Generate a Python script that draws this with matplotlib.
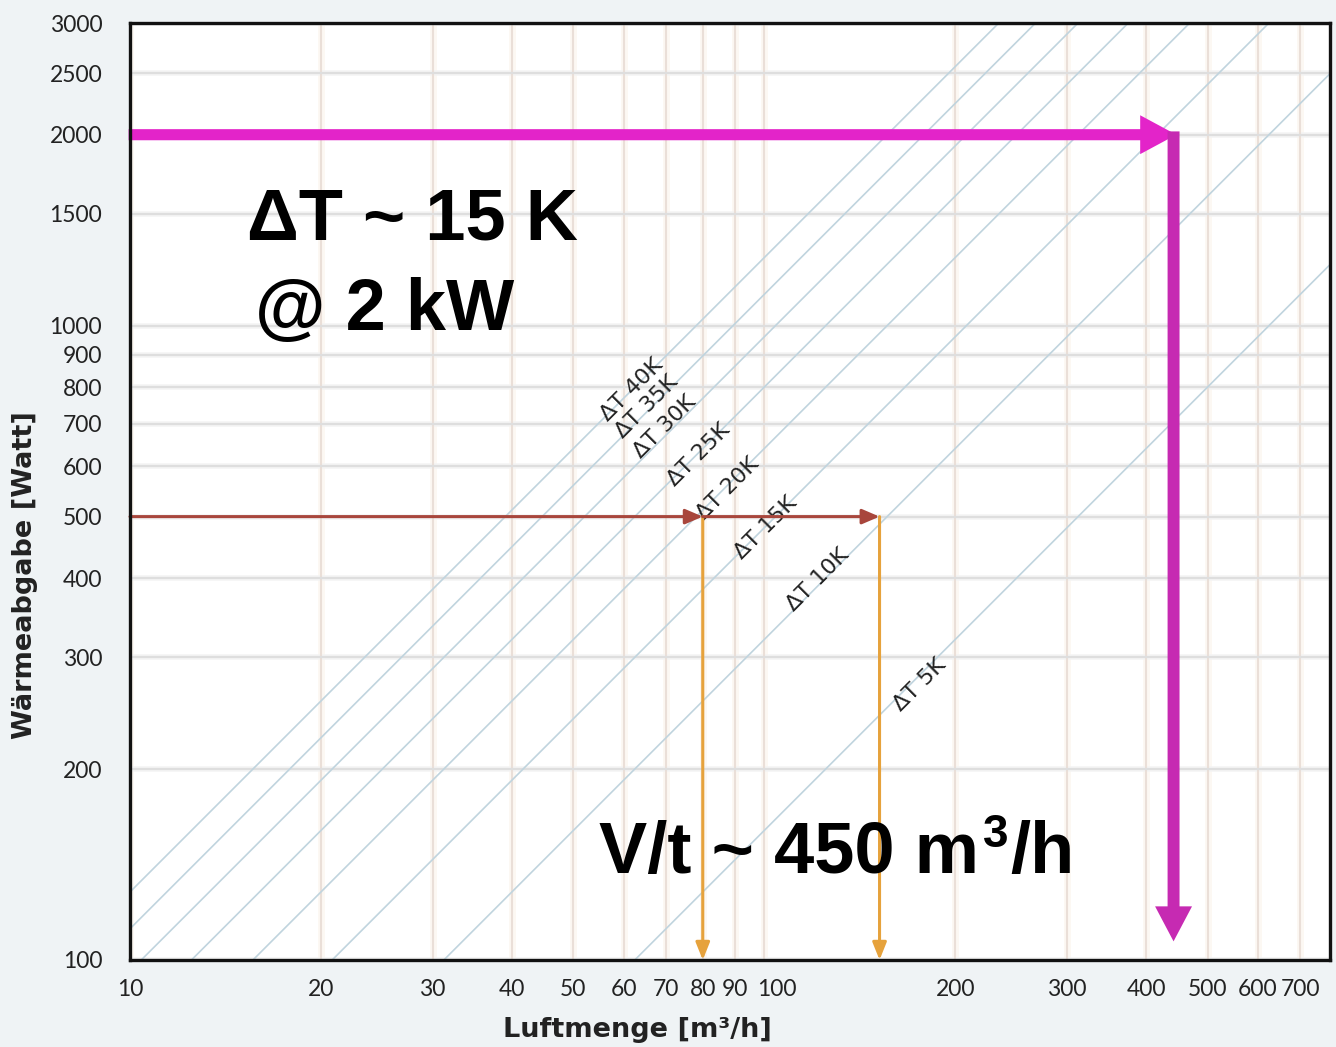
import numpy as np
import matplotlib
matplotlib.use("Agg")
import matplotlib.pyplot as plt
from matplotlib.ticker import NullLocator
from matplotlib.transforms import ScaledTranslation

# heat output Q [W] = k * dT [K] * V [m3/h]
delta_t = [5, 10, 15, 20, 25, 30, 35, 40]
k_air = 0.32

x_ticks = [10, 20, 30, 40, 50, 60, 70, 80, 90, 100, 200, 300, 400, 500, 600, 700]
y_ticks = [100, 200, 300, 400, 500, 600, 700, 800, 900, 1000, 1500, 2000, 2500, 3000]

# where the "dT xxK" labels sit
label_dt = [40, 35, 30, 25, 20, 15, 10, 5]
label_v = [61.9, 65.2, 69.8, 78.7, 87.7, 100.4, 121.6, 175.6]
label_q = [793, 745, 694, 626, 553, 480, 397, 272]

# reading example at 500 W
ex_q = 500
ex_v = [80, 152]
ex_q_min = 100

# 2 kW case
big_q = 2000
big_v = 442
big_q_end = 107

fig = plt.figure(figsize=(13.36, 10.47), dpi=100)
fig.patch.set_facecolor('#eff3f5')
ax = fig.add_axes([130/1336, 87/1047, 1200/1336, 937/1047])
ax.set_facecolor('white')
ax.set_xscale('log')
ax.set_yscale('log')
ax.set_xlim(10, 780)
ax.set_ylim(100, 3000)

# grid
for xv in x_ticks:
    ax.axvline(xv, color='#fcf8f3', lw=5, zorder=0)
    ax.axvline(xv, color='#eadfd8', lw=1.5, zorder=0.5)
for yv in y_ticks:
    ax.axhline(yv, color='#f4f4f4', lw=4, zorder=0)
    ax.axhline(yv, color='#dedede', lw=1.6, zorder=0.5)

# dT lines
v = np.array([5.0, 1000.0])
for dt in delta_t:
    ax.plot(v, k_air * dt * v, color='#c0d4de', lw=1.2, zorder=1)

for dt, lv, lq in zip(label_dt, label_v, label_q):
    ax.text(lv, lq, 'ΔT %dK' % dt, rotation=45, rotation_mode='anchor',
            ha='center', va='center', fontsize=16, color='#222222',
            family=['DejaVu Sans'], zorder=3)

# 500 W example arrows
red = '#a8463c'
orange = '#e6a23c'
ax.annotate('', xy=(ex_v[0], ex_q), xytext=(10, ex_q),
            arrowprops=dict(arrowstyle='-|>,head_length=0.7,head_width=0.3',
                            mutation_scale=15, lw=2.2, color=red,
                            shrinkA=0, shrinkB=0), zorder=4)
ax.annotate('', xy=(ex_v[1], ex_q), xytext=(ex_v[0], ex_q),
            arrowprops=dict(arrowstyle='-|>,head_length=0.7,head_width=0.3',
                            mutation_scale=15, lw=2.2, color=red,
                            shrinkA=0, shrinkB=0), zorder=4)
for xv in ex_v:
    ax.annotate('', xy=(xv, ex_q_min), xytext=(xv, ex_q),
                arrowprops=dict(arrowstyle='-|>,head_length=0.7,head_width=0.28',
                                mutation_scale=15, lw=2.2, color=orange,
                                shrinkA=0, shrinkB=0), zorder=3.5)

# 2 kW magenta arrows
ax.annotate('', xy=(big_v * 1.01, big_q), xytext=(9.95, big_q),
            arrowprops=dict(arrowstyle='simple,head_length=1.3,head_width=1.4,tail_width=0.4',
                            mutation_scale=20, lw=0, fc='#e324c9', ec='none',
                            shrinkA=0, shrinkB=0), annotation_clip=False, zorder=5)
ax.annotate('', xy=(big_v, big_q_end), xytext=(big_v, big_q * 1.012),
            arrowprops=dict(arrowstyle='simple,head_length=1.26,head_width=1.33,tail_width=0.43',
                            mutation_scale=20, lw=0, fc='#c62ab2', ec='none',
                            shrinkA=0, shrinkB=0), annotation_clip=False, zorder=5.5)

bigfont = dict(fontsize=52, fontweight='bold', family=['Liberation Sans', 'DejaVu Sans'],
               color='black', va='baseline', ha='left', zorder=6)
ax.text(15.3, 1368, 'ΔT ~ 15 K', **bigfont)
ax.text(15.75, 986, '@ 2 kW', **bigfont)
t_main = ax.text(54.8, 137, 'V/t ~ 450 m', **bigfont)

# superscript 3 and "/h" placed after the measured main text
fig.canvas.draw()
bb = t_main.get_window_extent()
x_px = bb.x1
base_px = ax.transData.transform((54.8, 137))[1]
t3 = fig.text((x_px + 4) / 1336, (base_px + 26) / 1047, '3', fontsize=33,
              fontweight='bold', family=['Liberation Sans'], va='baseline', ha='left')
fig.canvas.draw()
bb3 = t3.get_window_extent()
fig.text((bb3.x1 + 2) / 1336, base_px / 1047, '/h', fontsize=52, fontweight='bold',
         family=['Liberation Sans'], va='baseline', ha='left')

# ticks
ax.xaxis.set_minor_locator(NullLocator())
ax.yaxis.set_minor_locator(NullLocator())
ax.set_xticks(x_ticks)
ax.set_xticklabels([str(t) for t in x_ticks])
ax.set_yticks(y_ticks)
ax.set_yticklabels([str(t) for t in y_ticks])
ax.tick_params(axis='both', length=0, labelsize=16.5, labelcolor='#222222')
ax.tick_params(axis='x', pad=14)
ax.tick_params(axis='y', pad=20)
for lab in ax.get_xticklabels() + ax.get_yticklabels():
    lab.set_family(['Lato', 'DejaVu Sans'])
for lab in ax.get_xticklabels():
    if lab.get_text() == '100':
        lab.set_transform(lab.get_transform() + ScaledTranslation(0.13, 0, fig.dpi_scale_trans))

for sp in ax.spines.values():
    sp.set_color('#111111')
    sp.set_linewidth(2.4)
    sp.set_zorder(7)

fig.text(637/1336, 1 - 1030/1047, 'Luftmenge [m³/h]', ha='center', va='center',
         fontsize=19.5, fontweight='bold', color='#222222', family=['DejaVu Sans'])
fig.text(25/1336, 1 - 575/1047, 'Wärmeabgabe [Watt]', ha='center', va='center',
         rotation=90, fontsize=19.5, fontweight='bold', color='#222222',
         family=['DejaVu Sans'])

fig.savefig('out.png', dpi=100, facecolor=fig.get_facecolor())
